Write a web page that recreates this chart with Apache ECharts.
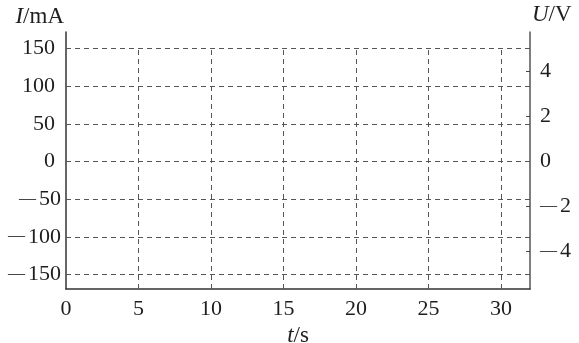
<!DOCTYPE html>
<html>
<head>
<meta charset="utf-8">
<script src="https://cdn.jsdelivr.net/npm/echarts@6/dist/echarts.min.js"></script>
<style>
  html, body { margin: 0; padding: 0; background: #fff; }
  #chart { width: 579px; height: 343px; }
</style>
</head>
<body>
<div id="chart"></div>
<script>
// axis ticks
var tTicks = [0, 5, 10, 15, 20, 25, 30]
var iTicks = [-150, -100, -50, 0, 50, 100, 150]
var uTicks = [-4, -2, 0, 2, 4]
var tRange = [0, 32]
var iRange = [-169, 172]
var uRange = [-5.66, 5.76]

var serif = 'Liberation Serif'
var ink = '#1e1e1e'
var gridColor = '#555'

function numLabel(v, padRight) {
  if (v < 0) return '{m|\u2014}{n|' + Math.abs(v) + '}'
  return padRight ? '{p|' + v + '}' : '{n|' + v + '}'
}

var rich = {
  m: { fontFamily: serif, fontSize: 17, color: ink, padding: [0, 3, 2, 0] },
  n: { fontFamily: serif, fontSize: 22, color: ink },
  p: { fontFamily: serif, fontSize: 22, color: ink, padding: [0, 6, 0, 0] },
  i: { fontFamily: serif, fontSize: 23, color: ink, fontStyle: 'italic' },
  r: { fontFamily: serif, fontSize: 23, color: ink }
}

// dashed grid: vertical lines stop at the 150 line, horizontal lines span the plot
var gridLines = []
tTicks.filter(function (t) { return t > 0 }).forEach(function (t) {
  gridLines.push([{ coord: [t, iRange[0]] }, { coord: [t, iTicks[iTicks.length - 1]] }])
})
iTicks.forEach(function (v) {
  gridLines.push([{ coord: [tRange[0], v] }, { coord: [tRange[1], v] }])
})

var chart = echarts.init(document.getElementById('chart'))
chart.setOption({
  animation: false,
  backgroundColor: '#fff',
  grid: { left: 66, right: 49, top: 32, bottom: 54, containLabel: false, outerBoundsMode: 'none' },
  xAxis: {
    type: 'value',
    min: tRange[0],
    max: tRange[1],
    name: '{i|t}{r|/s}',
    nameLocation: 'middle',
    nameGap: 26,
    nameTextStyle: { rich: rich },
    axisLine: { onZero: false, lineStyle: { color: '#333', width: 1.5 } },
    axisTick: { show: false },
    splitLine: { show: false },
    axisLabel: {
      customValues: tTicks,
      margin: 9,
      fontFamily: serif,
      fontSize: 22,
      color: ink
    }
  },
  yAxis: [{
    type: 'value',
    position: 'left',
    min: iRange[0],
    max: iRange[1],
    name: '{i|I}{r|/mA}',
    nameLocation: 'end',
    nameGap: 4,
    nameTextStyle: { rich: rich, align: 'right', padding: [0, 2, 0, 0] },
    axisLine: { show: true, onZero: false, lineStyle: { color: '#333', width: 1.5 } },
    axisTick: { show: false },
    splitLine: { show: false },
    axisLabel: {
      customValues: iTicks,
      margin: 5,
      formatter: function (v) { return numLabel(v, true) },
      rich: rich
    }
  }, {
    type: 'value',
    position: 'right',
    min: uRange[0],
    max: uRange[1],
    name: '{i|U}{r|/V}',
    nameLocation: 'end',
    nameGap: 6,
    nameTextStyle: { rich: rich, align: 'left', padding: [0, 0, 0, 2] },
    axisLine: { show: true, onZero: false, lineStyle: { color: '#555', width: 1.5 } },
    axisTick: {
      show: true,
      inside: true,
      length: 4,
      customValues: uTicks,
      lineStyle: { color: '#444', width: 1 }
    },
    splitLine: { show: false },
    axisLabel: {
      customValues: uTicks,
      margin: 10,
      formatter: function (v) { return numLabel(v, false) },
      rich: rich
    }
  }],
  series: [{
    type: 'line',
    xAxisIndex: 0,
    yAxisIndex: 0,
    data: [],
    silent: true,
    markLine: {
      silent: true,
      symbol: ['none', 'none'],
      label: { show: false },
      lineStyle: { type: [5, 4], color: gridColor, width: 1 },
      emphasis: { disabled: true },
      data: gridLines
    }
  }]
})
</script>
</body>
</html>
